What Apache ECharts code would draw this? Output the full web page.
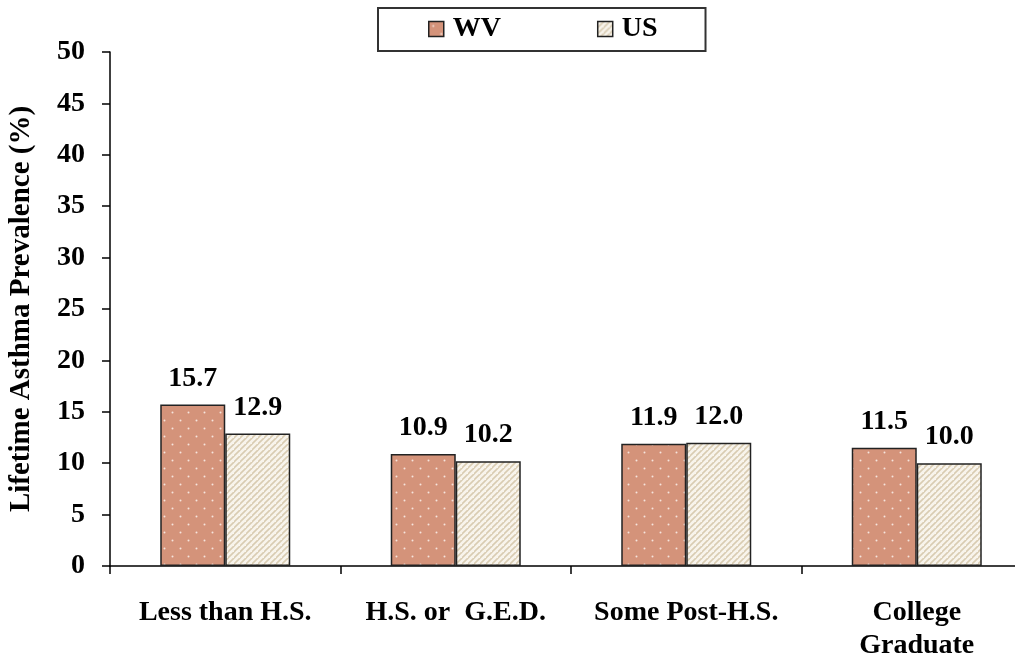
<!DOCTYPE html>
<html>
<head>
<meta charset="utf-8">
<script src="https://cdn.jsdelivr.net/npm/echarts@6/dist/echarts.min.js"></script>
<style>
  html, body { margin: 0; padding: 0; background: #fff; }
  #chart { width: 1015px; height: 658px; }
</style>
</head>
<body>
<div id="chart"></div>
<script>
// Lifetime asthma prevalence by education level, West Virginia vs. United States
const categories = ['Less than H.S.', 'H.S. or  G.E.D.', 'Some Post-H.S.', 'College\nGraduate'];
const wvValues = [15.7, 10.9, 11.9, 11.5];
const usValues = [12.9, 10.2, 12.0, 10.0];
const seriesNames = ['WV', 'US'];

const FONT = '"Liberation Serif", "Times New Roman", serif';

// Salmon fill with a staggered grid of small light dots
function dotPattern() {
  const c = document.createElement('canvas');
  c.width = 16; c.height = 16;
  const g = c.getContext('2d');
  g.fillStyle = '#d4937a';
  g.fillRect(0, 0, 16, 16);
  g.fillStyle = '#f6e4dc';
  g.beginPath(); g.arc(4.5, 4.5, 1.0, 0, Math.PI * 2); g.fill();
  g.beginPath(); g.arc(12.5, 12.5, 1.0, 0, Math.PI * 2); g.fill();
  return c;
}

// Cream fill with thin tan diagonal hatching
function stripePattern() {
  const s = 6;
  const c = document.createElement('canvas');
  c.width = s; c.height = s;
  const g = c.getContext('2d');
  g.fillStyle = '#f8f4ec';
  g.fillRect(0, 0, s, s);
  g.strokeStyle = '#d9ccb2';
  g.lineWidth = 1.6;
  g.beginPath();
  g.moveTo(-1, s + 1); g.lineTo(s + 1, -1);
  g.moveTo(-1 - s, s + 1); g.lineTo(1, -1);
  g.moveTo(s - 1, 2 * s + 1); g.lineTo(2 * s + 1, s - 1);
  g.stroke();
  return c;
}

const wvFill = { image: dotPattern(), repeat: 'repeat' };
const usFill = { image: stripePattern(), repeat: 'repeat' };

const labelStyle = {
  show: true,
  position: 'top',
  distance: 12,
  color: '#000',
  fontFamily: FONT,
  fontWeight: 'bold',
  fontSize: 28,
  formatter: p => p.value.toFixed(1)
};

const chart = echarts.init(document.getElementById('chart'), null, { renderer: 'canvas' });
chart.setOption({
  animation: false,
  backgroundColor: '#fff',
  grid: { left: 110, width: 922, top: 52, bottom: 92, containLabel: false, outerBoundsMode: 'none' },
  legend: {
    left: 378,
    top: 8,
    padding: [7, 48, 8, 50],
    itemGap: 96,
    itemWidth: 15,
    itemHeight: 15,
    icon: 'rect',
    borderColor: '#333',
    borderWidth: 2,
    backgroundColor: '#fff',
    data: [
      { name: seriesNames[0], itemStyle: { color: wvFill, borderColor: '#222', borderWidth: 1.5 } },
      { name: seriesNames[1], itemStyle: { color: usFill, borderColor: '#222', borderWidth: 1.5 } }
    ],
    textStyle: { fontFamily: FONT, fontWeight: 'bold', fontSize: 28, color: '#000', padding: [0, 0, 0, 4] }
  },
  xAxis: {
    type: 'category',
    data: categories,
    boundaryGap: true,
    axisLine: { lineStyle: { color: '#000', width: 1.5 } },
    axisTick: { show: true, length: 8, lineStyle: { color: '#000', width: 1.5 } },
    axisLabel: {
      margin: 30,
      color: '#000',
      fontFamily: FONT,
      fontWeight: 'bold',
      fontSize: 28,
      lineHeight: 33,
      interval: 0
    },
    splitLine: { show: false }
  },
  yAxis: {
    type: 'value',
    min: 0,
    max: 50,
    interval: 5,
    name: 'Lifetime Asthma Prevalence (%)',
    nameLocation: 'middle',
    nameGap: 74,
    nameTextStyle: { fontFamily: FONT, fontWeight: 'bold', fontSize: 29, color: '#000' },
    axisLine: { show: true, lineStyle: { color: '#000', width: 1.5 } },
    axisTick: { show: true, length: 8, lineStyle: { color: '#000', width: 1.5 } },
    axisLabel: {
      margin: 25,
      color: '#000',
      fontFamily: FONT,
      fontWeight: 'bold',
      fontSize: 28
    },
    splitLine: { show: false }
  },
  series: [
    {
      name: seriesNames[0],
      type: 'bar',
      data: wvValues,
      barWidth: 65,
      barGap: '0%',
      itemStyle: { color: wvFill, borderColor: '#222', borderWidth: 1.5 },
      label: labelStyle
    },
    {
      name: seriesNames[1],
      type: 'bar',
      data: usValues,
      barWidth: 65,
      barGap: '0%',
      itemStyle: { color: usFill, borderColor: '#222', borderWidth: 1.5 },
      label: labelStyle
    }
  ]
});
</script>
</body>
</html>
